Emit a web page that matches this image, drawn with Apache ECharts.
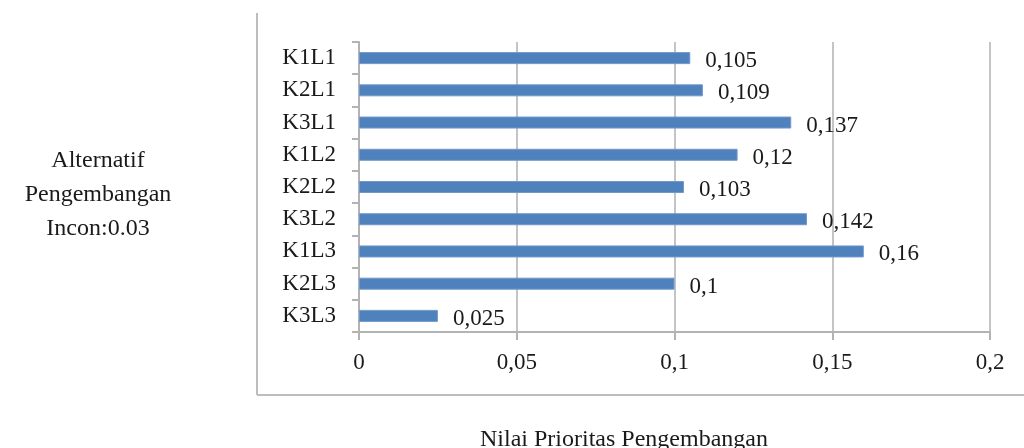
<!DOCTYPE html>
<html>
<head>
<meta charset="utf-8">
<style>
  html, body { margin: 0; padding: 0; background: #fff; }
  #chart { width: 1024px; height: 448px; }
</style>
<script src="https://cdn.jsdelivr.net/npm/echarts@6/dist/echarts.min.js"></script>
</head>
<body>
<div id="chart"></div>
<script>
// Alternatives and their development priority values
const categories = ['K1L1', 'K2L1', 'K3L1', 'K1L2', 'K2L2', 'K3L2', 'K1L3', 'K2L3', 'K3L3'];
const priorities = [0.105, 0.109, 0.137, 0.12, 0.103, 0.142, 0.16, 0.1, 0.025];
const axisTicks = [0, 0.05, 0.1, 0.15, 0.2];

const yTitleLines = ['Alternatif', 'Pengembangan', 'Incon:0.03'];
const xTitle = 'Nilai Prioritas Pengembangan';

const serif = '"Liberation Serif", "Times New Roman", serif';
const gray = '#b3b3b3';
const ink = '#1a1a1a';
const toComma = v => String(v).replace('.', ',');

const chart = echarts.init(document.getElementById('chart'));
chart.setOption({
  animation: false,
  backgroundColor: '#fff',
  textStyle: { fontFamily: serif, color: ink },
  grid: { left: 359, right: 34, top: 42, bottom: 116, containLabel: false },
  title: [
    {
      text: yTitleLines.join('\n'),
      left: 93, top: 139, textAlign: 'center',
      textStyle: { fontFamily: serif, fontWeight: 'normal', fontSize: 24, lineHeight: 34, color: ink }
    },
    {
      text: xTitle,
      left: 619, top: 423, textAlign: 'center',
      textStyle: { fontFamily: serif, fontWeight: 'normal', fontSize: 24, color: ink }
    }
  ],
  xAxis: {
    type: 'value',
    min: axisTicks[0],
    max: axisTicks[axisTicks.length - 1],
    interval: axisTicks[1] - axisTicks[0],
    axisLine: { show: true, lineStyle: { color: gray, width: 2 } },
    axisTick: { show: true, length: 8, lineStyle: { color: gray, width: 2 } },
    splitLine: { show: true, lineStyle: { color: '#c4c4c4', width: 2 } },
    axisLabel: {
      margin: 19, fontSize: 23, fontFamily: serif, color: ink,
      formatter: v => toComma(+v.toFixed(2))
    }
  },
  yAxis: {
    type: 'category',
    data: categories,
    inverse: true,
    axisLine: { show: true, lineStyle: { color: gray, width: 2 } },
    axisTick: { show: true, length: 7, alignWithLabel: false, lineStyle: { color: gray, width: 2 } },
    axisLabel: { margin: 23, fontSize: 23, fontFamily: serif, color: ink }
  },
  series: [{
    type: 'bar',
    data: priorities,
    barWidth: 12,
    itemStyle: { color: '#4f81bd', borderColor: '#6f98cc', borderWidth: 1 },
    label: {
      show: true,
      position: 'right',
      distance: 15,
      offset: [0, 3],
      fontSize: 23,
      fontFamily: serif,
      color: ink,
      formatter: p => toComma(p.value)
    }
  }],
  graphic: [
    { type: 'line', shape: { x1: 257, y1: 13, x2: 257, y2: 395 }, style: { stroke: '#bdbdbd', lineWidth: 2 } },
    { type: 'line', shape: { x1: 257, y1: 395, x2: 1024, y2: 395 }, style: { stroke: '#bdbdbd', lineWidth: 2 } }
  ]
});
</script>
</body>
</html>
